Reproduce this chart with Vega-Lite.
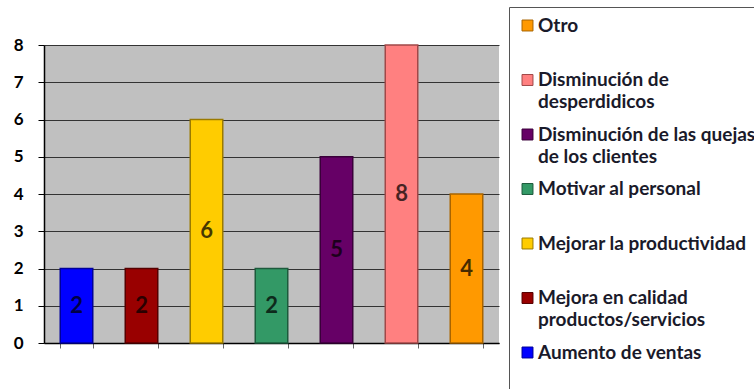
{
  "$schema": "https://vega.github.io/schema/vega-lite/v6.json",
  "width": 455,
  "height": 298,
  "autosize": "none",
  "padding": {"left": 44, "top": 45, "right": 255, "bottom": 46},
  "background": "white",
  "data": {"values": [
    {"cat": "Aumento de ventas", "v": 2},
    {"cat": "Mejora en calidad productos/servicios", "v": 2},
    {"cat": "Mejorar la productividad", "v": 6},
    {"cat": "Motivar al personal", "v": 2},
    {"cat": "Disminución de las quejas de los clientes", "v": 5},
    {"cat": "Disminución de desperdidicos", "v": 8},
    {"cat": "Otro", "v": 4}
  ]},
  "config": {
    "view": {"fill": "#c0c0c0", "stroke": null},
    "font": "Lato",
    "style": {"guide-label": {"lineHeight": 22}},
    "axisY": {"title": null, "values": [0, 1, 2, 3, 4, 5, 6, 7, 8], "grid": true, "gridColor": "#333", "gridWidth": 1.2,
              "domainColor": "#000", "domainWidth": 1.5, "tickColor": "#000", "tickSize": 6, "labelPadding": 15,
              "labelFontSize": 17, "labelFontWeight": "bold", "labelColor": "#000", "labelOverlap": false}
  },
  "encoding": {
    "x": {
      "field": "cat", "type": "nominal", "sort": null,
      "scale": {"paddingInner": 0.5, "paddingOuter": 0.25},
      "axis": {"labels": false, "title": null, "domainColor": "#000", "domainWidth": 1.5, "tickColor": "#666", "tickSize": 5, "tickBand": "extent", "grid": false}
    }
  },
  "layer": [
    {
      "mark": {"type": "bar", "strokeWidth": 1.5},
      "encoding": {
        "y": {
          "field": "v", "type": "quantitative",
          "scale": {"domain": [0, 8], "nice": false}
        },
        "color": {
          "field": "cat", "type": "nominal",
          "scale": {
            "domain": ["Otro", "Disminución de desperdidicos", "Disminución de las quejas de los clientes", "Motivar al personal", "Mejorar la productividad", "Mejora en calidad productos/servicios", "Aumento de ventas"],
            "range": ["#ff9900", "#ff8080", "#660066", "#339966", "#ffcc00", "#990000", "#0000ff"]
          },
          "legend": {
            "orient": "none", "legendX": 465, "legendY": -38, "title": null,
            "symbolType": "square", "symbolSize": 120, "symbolStrokeColor": "#333", "symbolStrokeWidth": 1,
            "labelFontSize": 19, "labelFontWeight": "bold", "labelColor": "#1a1a2a", "labelFont": "Lato",
            "labelLimit": 400, "labelBaseline": "middle", "labelOffset": 1, "rowPadding": 12.5, "padding": 9,
            "strokeColor": "#555", "fillColor": "white",
            "labelExpr": "datum.label == 'Disminución de desperdidicos' ? ['Disminución de', 'desperdidicos'] : datum.label == 'Disminución de las quejas de los clientes' ? ['Disminución de las quejas', 'de los clientes'] : datum.label == 'Mejora en calidad productos/servicios' ? ['Mejora en calidad', 'productos/servicios'] : [datum.label, '']"
          }
        },
        "stroke": {
          "field": "cat", "type": "nominal",
          "scale": {
            "domain": ["Otro", "Disminución de desperdidicos", "Disminución de las quejas de los clientes", "Motivar al personal", "Mejorar la productividad", "Mejora en calidad productos/servicios", "Aumento de ventas"],
            "range": ["#a86400", "#a04848", "#3a003a", "#1d5a3c", "#9a7a00", "#550000", "#000099"]
          },
          "legend": null
        }
      }
    },
    {
      "transform": [{"calculate": "datum.v / 2", "as": "mid"}],
      "mark": {"type": "text", "fontSize": 22, "fontWeight": "bold", "font": "Lato", "color": "#000", "opacity": 0.72, "baseline": "middle"},
      "encoding": {
        "y": {"field": "mid", "type": "quantitative"},
        "text": {"field": "v", "type": "quantitative"}
      }
    }
  ]
}
